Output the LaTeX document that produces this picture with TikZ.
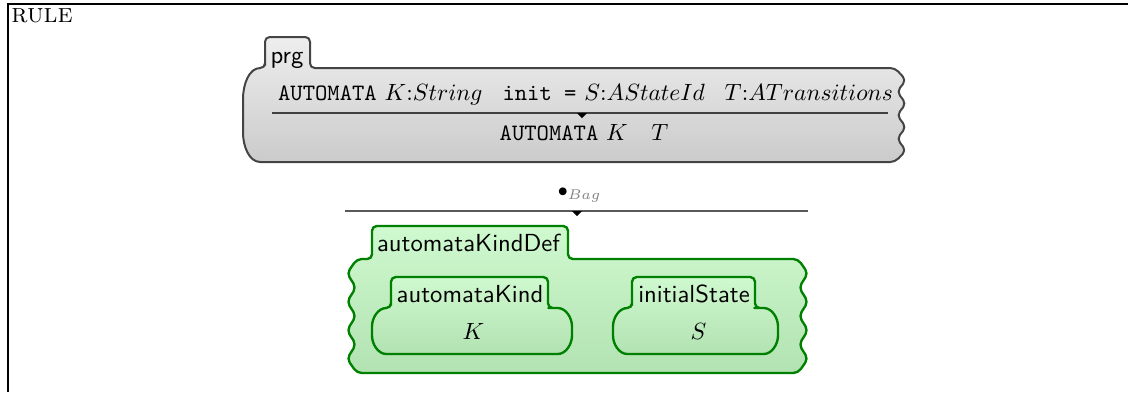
\documentclass[tikz,border=0pt]{standalone}
\definecolor{prgdraw}{HTML}{444444}
\definecolor{prgtop}{HTML}{EEEEEE}
\definecolor{prgbot}{HTML}{CBCBCB}
\definecolor{kgreen}{HTML}{008000}
\definecolor{gtop}{HTML}{CFF9CF}
\definecolor{gbot}{HTML}{B2E2B2}
\definecolor{baggray}{HTML}{808080}
\tikzset{
  prgcell/.style={draw=prgdraw, line width=0.85pt, top color=prgtop, bottom color=prgbot, rounded corners=2pt, line join=round},
  greencell/.style={draw=kgreen, line width=1pt, top color=gtop, bottom color=gbot, rounded corners=2pt, line join=round},
  celllabel/.style={font=\fontsize{10.5}{12}\sffamily, inner sep=0pt, anchor=base},
  celltext/.style={inner sep=0pt, anchor=base},
  ruleline/.style={line width=0.6pt},
  marker/.style={fill=black},
  frameline/.style={line width=0.65pt}
}
\begin{document}
\begin{tikzpicture}[x=0.4255pt,y=-0.4255pt]
\useasboundingbox (0,0) rectangle (1128,392);
% frame
\draw[frameline] (8,392) -- (8,4) -- (1128,4);
\node[anchor=base west, inner sep=0pt] (rulelbl) at (11,22) {\fontsize{11.5}{13}\selectfont\textsc{rule}};
% prg cell
\path[prgcell] (265,68) -- (265,37) -- (310,37) -- (310,68) -- (895,68)
  -- (906,80) -- (897,91.75) -- (906,103.5) -- (897,115.25) -- (906,127) -- (897,138.75) -- (906,150.5) -- (895,162)
  -- (265,162) .. controls (249,162) and (243,146) .. (243,128) -- (243,104) .. controls (243,84) and (249,68) .. (265,68) -- cycle;
\node[celllabel] (prglbl) at (287,63) {prg};
\node[celltext] (prem) at (585.5,100) {\texttt{AUTOMATA} $K{:}String$\hspace{0.85em}\texttt{init =} $S{:}AStateId$\hspace{0.85em}$T{:}ATransitions$};
\draw[ruleline, draw=black!75] (272,113) -- (888,113);
\fill[marker] (577,113) -- (587,113) -- (582,118) -- cycle;
\node[celltext] (concl) at (584,140) {\texttt{AUTOMATA} $K$\quad$T$};
% bag
\node[anchor=base west, inner sep=0pt] (bag) at (557.5,196.5) {\footnotesize$\bullet_{\color{baggray}Bag}$};
\draw[ruleline, draw=black!65] (345,211) -- (808,211);
\fill[marker] (572,211) -- (582,211) -- (577,216) -- cycle;
% automataKindDef cell
\path[greencell] (372,259) -- (372,226) -- (568,226) -- (568,259) -- (798,259)
  -- (808,273.25) -- (799,287.5) -- (808,301.75) -- (799,316) -- (808,330.25) -- (799,344.5) -- (808,358.75) -- (798,373)
  -- (357,373) -- (347,358.75) -- (356,344.5) -- (347,330.25) -- (356,316) -- (347,301.75) -- (356,287.5) -- (347,273.25) -- (357,259) -- cycle;
\node[celllabel] (kdlbl) at (468.5,251) {automataKindDef};
% automataKind cell
\path[greencell] (391,308) -- (391,277) -- (548,277) -- (548,308) -- (553,308)
  .. controls (566,308) and (572,318) .. (572,331) .. controls (572,344) and (566,354) .. (553,354)
  -- (391,354) .. controls (378,354) and (372,344) .. (372,331) .. controls (372,318) and (378,308) .. (391,308) -- cycle;
\node[celllabel] (aklbl) at (470,302) {automataKind};
\node[celltext] (kvar) at (473.5,339) {$K$};
% initialState cell
\path[greencell] (632,308) -- (632,277) -- (755,277) -- (755,308) -- (759,308)
  .. controls (772,308) and (778,318) .. (778,331) .. controls (778,344) and (772,354) .. (759,354)
  -- (632,354) .. controls (619,354) and (613,344) .. (613,331) .. controls (613,318) and (619,308) .. (632,308) -- cycle;
\node[celllabel] (islbl) at (694,302) {initialState};
\node[celltext] (svar) at (698.5,339) {$S$};
\end{tikzpicture}
\end{document}
